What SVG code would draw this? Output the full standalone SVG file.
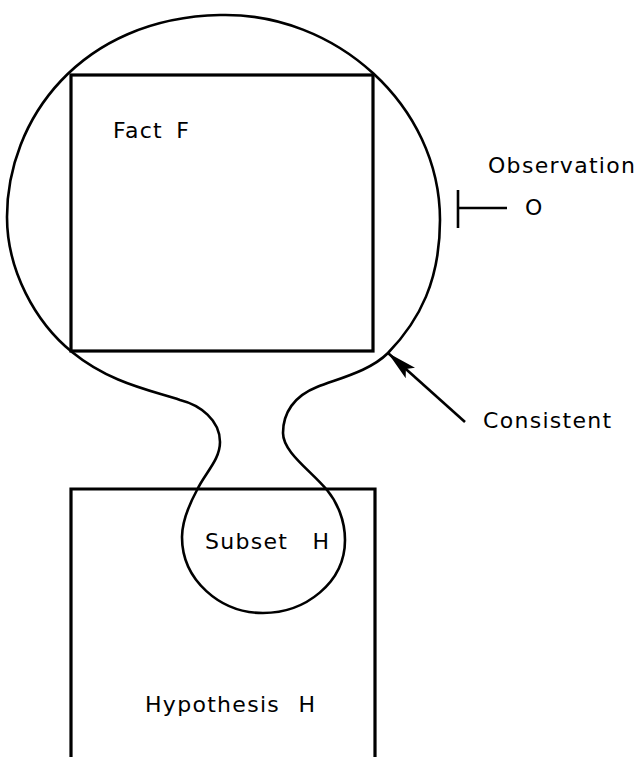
<svg xmlns="http://www.w3.org/2000/svg" width="640" height="757" viewBox="0 0 640 757">
<style>
  .box { fill: none; stroke: #000; stroke-width: 3.2; stroke-linejoin: miter; }
  .blob { fill: none; stroke: #000; stroke-width: 2.6; }
  .line { fill: none; stroke: #000; stroke-width: 2.6; }
  .lbl { font-family: "DejaVu Sans", Verdana, sans-serif; font-size: 22px; letter-spacing: 1.3px; fill: #000; }
</style>
<defs>
  <marker id="head" viewBox="0 0 30 14" refX="30" refY="7" markerWidth="30" markerHeight="14" markerUnits="userSpaceOnUse" orient="auto">
    <path d="M0,0 L30,7 L0,14 L6,7 Z" fill="#000"/>
  </marker>
</defs>
<rect width="640" height="757" fill="#fff"/>
<g id="fact">
  <rect class="box" x="71" y="75" width="302" height="276"/>
  <text class="lbl" x="113" y="138" word-spacing="5">Fact F</text>
</g>
<g id="hypothesis">
  <path class="box" d="M71,760 L71,489 L375,489 L375,760"/>
  <text class="lbl" x="145" y="712" word-spacing="10">Hypothesis H</text>
</g>
<g id="consistent-set">
  <path class="blob" d="M220,15 C335,12 440,105 440,220 C440,280 420,320 388,353 C370,371 340,378 317,387 C294,396 283,413 283,433 C283,452 310,470 327,490 C337,502 345,520 345,540 C345,583 305,613 263,613 C220,613 182,580 182,537 C182,520 190,503 197,490 C205,473 220,460 220,442 C220,420 200,405 180,400 C150,390 110,383 72,352 C35,322 7,270 7,217 C7,120 80,18 220,15 Z"/>
</g>
<g id="subset">
  <text class="lbl" x="205" y="549" word-spacing="16">Subset H</text>
</g>
<g id="observation">
  <text class="lbl" x="488" y="173">Observation</text>
  <text class="lbl" x="525" y="215">O</text>
</g>
<g id="consistent-label">
  <text class="lbl" x="483" y="428">Consistent</text>
</g>
<g id="connectors">
  <path class="line" d="M458,190 L458,228 M458,208 L507,208"/>
  <line class="line" x1="465" y1="422" x2="388" y2="353" marker-end="url(#head)"/>
</g>
</svg>
